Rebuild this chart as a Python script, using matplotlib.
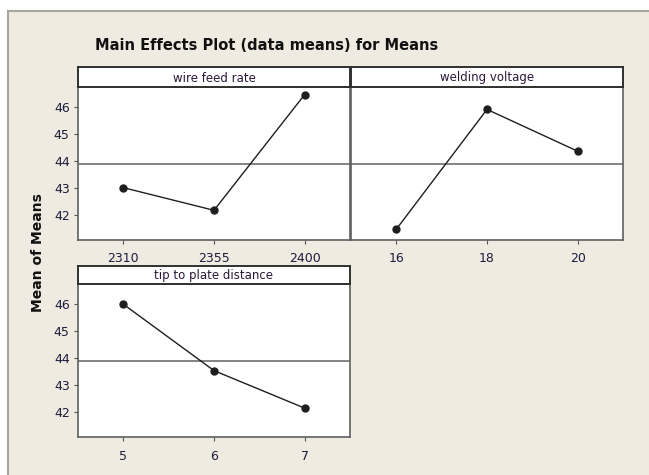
import matplotlib
matplotlib.use("Agg")
import matplotlib.pyplot as plt
from matplotlib.patches import Rectangle
from matplotlib.lines import Line2D

# Values (means of the S/N means)
wire_levels = ["2310", "2355", "2400"]
wire_means = [43.02, 42.18, 46.47]

voltage_levels = ["16", "18", "20"]
voltage_means = [41.48, 45.92, 44.37]

tip_levels = ["5", "6", "7"]
tip_means = [46.0, 43.54, 42.15]

panel_titles = ["wire feed rate", "welding voltage", "tip to plate distance"]
grand_mean = 43.88

plt.rcParams['font.family'] = ['DejaVu Sans']

W, H = 649, 475
bg = "#efebe1"
fig = plt.figure(figsize=(W / 100, H / 100), dpi=100)
fig.patch.set_facecolor("white")

# beige frame, only top and left edges visible
fig.patches.append(Rectangle((8 / W, 0), 1, 1 - 11 / H, transform=fig.transFigure,
                             facecolor=bg, edgecolor="none", zorder=-10))
fig.lines.append(Line2D([8 / W, 1], [1 - 10.5 / H] * 2, transform=fig.transFigure,
                        color="#a9a59d", linewidth=1.5))
fig.lines.append(Line2D([8 / W] * 2, [0, 1 - 10.5 / H], transform=fig.transFigure,
                        color="#a9a59d", linewidth=1.5))


def box(x0, y0, x1, y1):
    return [x0 / W, 1 - y1 / H, (x1 - x0) / W, (y1 - y0) / H]


def panel(px, py_strip, py_top, py_bot, title, levels, means, show_y):
    ax = fig.add_axes(box(px[0], py_top, px[1], py_bot))
    x = list(range(len(levels)))
    ax.axhline(grand_mean, color="#6e6e6e", linewidth=1.2, zorder=1)
    ax.plot(x, means, color="#1e1e1e", linewidth=1.0, marker="o",
            markersize=5, zorder=3)
    ax.set_xlim(-0.5, 2.5)
    ax.set_ylim(41.08, 46.75)
    ax.set_xticks(x)
    ax.set_xticklabels(levels)
    ax.set_yticks([42, 43, 44, 45, 46])
    if not show_y:
        ax.tick_params(axis="y", left=False, labelleft=False)
    ax.tick_params(axis="both", direction="out", length=3, width=0.8,
                   colors="#555555", labelcolor="#1c1c3c", labelsize=9, pad=3)
    ax.tick_params(axis="x", pad=6)
    for s in ax.spines.values():
        s.set_color("#606060")
        s.set_linewidth(1.2)
    ax.set_facecolor("white")

    sx = fig.add_axes(box(px[0], py_strip, px[1], py_top))
    sx.set_xticks([])
    sx.set_yticks([])
    sx.set_facecolor("white")
    for s in sx.spines.values():
        s.set_color("#303030")
        s.set_linewidth(1.4)
    sx.text(0.5, 0.45, title, ha="center", va="center", fontsize=8.5,
            color="#2a1838", transform=sx.transAxes)
    return ax


panel((78, 350), 67, 87, 240, panel_titles[0], wire_levels, wire_means, True)
panel((351, 623), 67, 87, 240, panel_titles[1], voltage_levels, voltage_means, False)
panel((78, 350), 266, 284, 437, panel_titles[2], tip_levels, tip_means, True)

fig.text(267 / W, 1 - 45 / H, "Main Effects Plot (data means) for Means",
         ha="center", va="center", fontsize=10.5, fontweight="bold", color="#111111")
fig.text(38 / W, 1 - 253 / H, "Mean of Means", ha="center", va="center",
         rotation=90, fontsize=10, fontweight="bold", color="#111111")

fig.savefig("out.png", dpi=100, facecolor=fig.get_facecolor())
